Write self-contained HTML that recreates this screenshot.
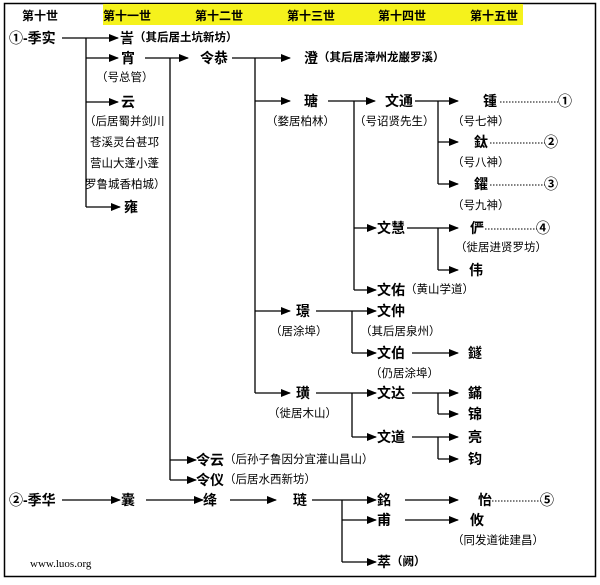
<!DOCTYPE html>
<html><head><meta charset="utf-8"><style>
html,body{margin:0;padding:0;background:#fff;}
svg{display:block;}
text{font-family:"Liberation Sans","Noto Sans CJK SC",sans-serif;fill:#000;dominant-baseline:central;}
.n{font-size:14px;font-weight:bold;}
.s{font-size:11.5px;}
.h{font-size:12px;font-weight:bold;}
</style></head><body>
<svg width="600" height="585" viewBox="0 0 600 585" xmlns="http://www.w3.org/2000/svg">
<defs><marker id="a" markerWidth="10" markerHeight="8" refX="9" refY="4" orient="auto" markerUnits="userSpaceOnUse"><path d="M0,0 L10,4 L0,8 Z" fill="#000"/></marker></defs>
<rect x="4.5" y="3.5" width="591" height="573" fill="none" stroke="#000" stroke-width="1.5"/>
<rect x="103" y="4" width="420" height="21" fill="#f5f21c"/>
<text class="h" x="22" y="16">第十世</text>
<text class="h" x="103" y="16">第十一世</text>
<text class="h" x="195" y="16">第十二世</text>
<text class="h" x="287" y="16">第十三世</text>
<text class="h" x="378" y="16">第十四世</text>
<text class="h" x="470" y="16">第十五世</text>
<g stroke="#000" stroke-width="1.3" fill="none">
<line x1="62" y1="38" x2="118" y2="38" marker-end="url(#a)"/>
<line x1="86" y1="38" x2="86" y2="207"/>
<line x1="86" y1="58" x2="118" y2="58" marker-end="url(#a)"/>
<line x1="86" y1="102" x2="118" y2="102" marker-end="url(#a)"/>
<line x1="86" y1="207" x2="120" y2="207" marker-end="url(#a)"/>
<line x1="145" y1="58" x2="188" y2="58" marker-end="url(#a)"/>
<line x1="170" y1="58" x2="170" y2="480"/>
<line x1="170" y1="460" x2="196" y2="460" marker-end="url(#a)"/>
<line x1="170" y1="480" x2="196" y2="480" marker-end="url(#a)"/>
<line x1="232" y1="58" x2="290" y2="58" marker-end="url(#a)"/>
<line x1="255" y1="58" x2="255" y2="393"/>
<line x1="255" y1="101" x2="290" y2="101" marker-end="url(#a)"/>
<line x1="255" y1="311" x2="290" y2="311" marker-end="url(#a)"/>
<line x1="255" y1="393" x2="290" y2="393" marker-end="url(#a)"/>
<line x1="328" y1="101" x2="375" y2="101" marker-end="url(#a)"/>
<line x1="354" y1="101" x2="354" y2="290"/>
<line x1="354" y1="228" x2="376" y2="228" marker-end="url(#a)"/>
<line x1="354" y1="290" x2="376" y2="290" marker-end="url(#a)"/>
<line x1="415" y1="101" x2="458" y2="101" marker-end="url(#a)"/>
<line x1="438" y1="101" x2="438" y2="184"/>
<line x1="438" y1="142" x2="458" y2="142" marker-end="url(#a)"/>
<line x1="438" y1="184" x2="458" y2="184" marker-end="url(#a)"/>
<line x1="407" y1="228" x2="458" y2="228" marker-end="url(#a)"/>
<line x1="438" y1="228" x2="438" y2="270"/>
<line x1="438" y1="270" x2="458" y2="270" marker-end="url(#a)"/>
<line x1="316" y1="311" x2="376" y2="311" marker-end="url(#a)"/>
<line x1="352" y1="311" x2="352" y2="353"/>
<line x1="352" y1="353" x2="376" y2="353" marker-end="url(#a)"/>
<line x1="412" y1="353" x2="458" y2="353" marker-end="url(#a)"/>
<line x1="316" y1="393" x2="376" y2="393" marker-end="url(#a)"/>
<line x1="352" y1="393" x2="352" y2="437"/>
<line x1="352" y1="437" x2="376" y2="437" marker-end="url(#a)"/>
<line x1="412" y1="393" x2="458" y2="393" marker-end="url(#a)"/>
<line x1="438" y1="393" x2="438" y2="414"/>
<line x1="438" y1="414" x2="458" y2="414" marker-end="url(#a)"/>
<line x1="412" y1="437" x2="458" y2="437" marker-end="url(#a)"/>
<line x1="438" y1="437" x2="438" y2="459"/>
<line x1="438" y1="459" x2="458" y2="459" marker-end="url(#a)"/>
<line x1="62" y1="500" x2="120" y2="500" marker-end="url(#a)"/>
<line x1="146" y1="500" x2="203" y2="500" marker-end="url(#a)"/>
<line x1="230" y1="500" x2="276" y2="500" marker-end="url(#a)"/>
<line x1="312" y1="500" x2="376" y2="500" marker-end="url(#a)"/>
<line x1="342" y1="500" x2="342" y2="562"/>
<line x1="342" y1="520" x2="376" y2="520" marker-end="url(#a)"/>
<line x1="342" y1="562" x2="376" y2="562" marker-end="url(#a)"/>
<line x1="405" y1="500" x2="458" y2="500" marker-end="url(#a)"/>
<line x1="405" y1="520" x2="458" y2="520" marker-end="url(#a)"/>
</g>
<g stroke="#000" stroke-width="1" stroke-dasharray="1.5,1.5">
<line x1="500" y1="102" x2="558" y2="102"/>
<line x1="490" y1="143" x2="545" y2="143"/>
<line x1="490" y1="185" x2="545" y2="185"/>
<line x1="485" y1="229" x2="537" y2="229"/>
<line x1="492" y1="501" x2="541" y2="501"/>
</g>
<text class="n" x="9" y="38">①-季实</text>
<text class="n" x="120" y="38">訔<tspan class="s" font-weight="bold">（其后居土坑新坊）</tspan></text>
<text class="n" x="121" y="58">宵</text>
<text class="s" x="96" y="78">（号总管）</text>
<text class="n" x="121" y="102">云</text>
<text class="s" x="84" y="122">（后居蜀并剑川</text>
<text class="s" x="90" y="143">苍溪灵台甚邛</text>
<text class="s" x="90" y="164">营山大蓬小蓬</text>
<text class="s" x="85" y="185">罗鲁城香柏城）</text>
<text class="n" x="124" y="207">雍</text>
<text class="n" x="200" y="58">令恭</text>
<text class="n" x="304" y="58">澄<tspan class="s">（其后居漳州龙巌罗溪）</tspan></text>
<text class="n" x="304" y="101">瑭</text>
<text class="s" x="266" y="122">（婺居柏林）</text>
<text class="n" x="385" y="101">文通</text>
<text class="s" x="354" y="122">（号诏贤先生）</text>
<text class="n" x="483" y="101">锺</text>
<text class="n" x="558" y="101" font-size="13">①</text>
<text class="s" x="452" y="122">（号七神）</text>
<text class="n" x="474" y="142">鈦</text>
<text class="n" x="544" y="142" font-size="13">②</text>
<text class="s" x="452" y="163">（号八神）</text>
<text class="n" x="474" y="184">鑃</text>
<text class="n" x="544" y="184" font-size="13">③</text>
<text class="s" x="452" y="206">（号九神）</text>
<text class="n" x="377" y="228">文慧</text>
<text class="n" x="470" y="228">俨</text>
<text class="n" x="536" y="228" font-size="13">④</text>
<text class="s" x="455" y="248">（徙居进贤罗坊）</text>
<text class="n" x="469" y="270">伟</text>
<text class="n" x="377" y="290">文佑<tspan class="s" font-weight="normal">（黄山学道）</tspan></text>
<text class="n" x="296" y="311">璟</text>
<text class="s" x="270" y="332">（居涂埠）</text>
<text class="n" x="377" y="311">文仲</text>
<text class="s" x="360" y="332">（其后居泉州）</text>
<text class="n" x="377" y="353">文伯</text>
<text class="n" x="468" y="353">鐩</text>
<text class="s" x="370" y="374">（仍居涂埠）</text>
<text class="n" x="296" y="393">璜</text>
<text class="s" x="268" y="414">（徙居木山）</text>
<text class="n" x="377" y="393">文达</text>
<text class="n" x="468" y="393">鏋</text>
<text class="n" x="468" y="414">锦</text>
<text class="n" x="377" y="437">文道</text>
<text class="n" x="468" y="437">亮</text>
<text class="n" x="468" y="459">钧</text>
<text class="n" x="196" y="460">令云<tspan class="s" font-weight="normal">（后孙子鲁因分宜灌山昌山）</tspan></text>
<text class="n" x="196" y="480">令仪<tspan class="s" font-weight="normal">（后居水西新坊）</tspan></text>
<text class="n" x="9" y="500" font-weight="normal">②-季华</text>
<text class="n" x="121" y="500">囊</text>
<text class="n" x="203" y="500">绛</text>
<text class="n" x="293" y="500">琏</text>
<text class="n" x="377" y="500">銘</text>
<text class="n" x="478" y="500">怡</text>
<text class="n" x="540" y="500" font-size="13">⑤</text>
<text class="n" x="377" y="520">甫</text>
<text class="n" x="470" y="520">攸</text>
<text class="s" x="452" y="541">（同发道徙建昌）</text>
<text class="n" x="377" y="562">萃<tspan class="s">（阙）</tspan></text>
<text x="30" y="564" style="font-family:'Liberation Serif',serif;font-size:11px;">www.luos.org</text>
</svg>
</body></html>
